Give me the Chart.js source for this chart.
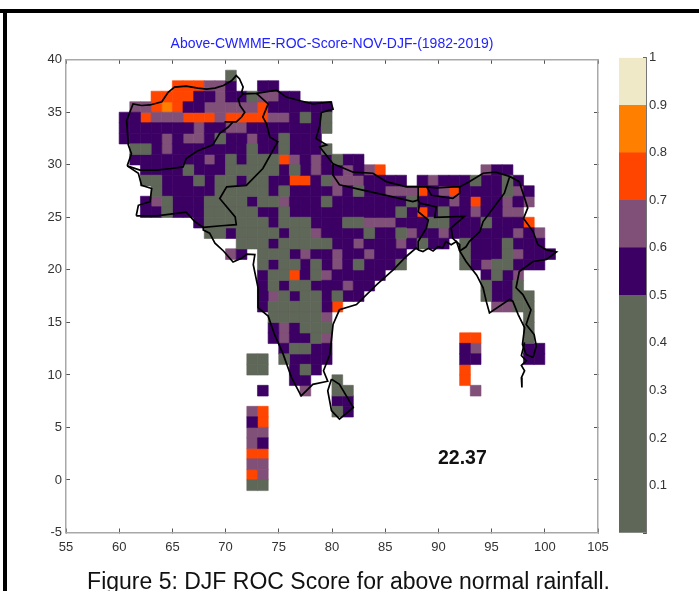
<!DOCTYPE html>
<html>
<head>
<meta charset="utf-8">
<title>DJF ROC Score</title>
<script src="https://cdn.jsdelivr.net/npm/chart.js@4"></script>
<style>
  html, body { margin: 0; padding: 0; background: #fff; }
  #page { position: relative; width: 699px; height: 591px; overflow: hidden; }
  #map, #bar { position: absolute; top: 0; filter: blur(0.45px); }
  #map { left: 0; }
  #bar { left: 600px; }
  #frameTop { position: absolute; left: 0; top: 9px; width: 699px; height: 4px; background: #000; }
  #frameLeft { position: absolute; left: 3px; top: 9px; width: 4px; height: 582px; background: #000; }
  #caption { position: absolute; left: 0; width: 697px; top: 568px; text-align: center;
             font: 23px "Liberation Sans", Arial, sans-serif; color: #111; white-space: nowrap; filter: blur(0.3px); }
</style>
</head>
<body>
<div id="page">
  <canvas id="map" width="699" height="591"></canvas>
  <canvas id="bar" width="99" height="591"></canvas>
  <div id="frameTop"></div>
  <div id="frameLeft"></div>
  <div id="caption">Figure 5: DJF ROC Score for above normal rainfall.</div>
</div>
<script>
const titleText = 'Above-CWMME-ROC-Score-NOV-DJF-(1982-2019)';
const scoreText = '22.37';

// score bins of the 1 degree cells
const binCodes = ['g', 'p', 'm', 'r', 'o'];
const binScores = [0.45, 0.55, 0.65, 0.75, 0.85];
const binColors = ['#5f6759', '#3c0064', '#815079', '#ff4500', '#ff8000'];

// one entry per row of cells: south edge latitude, west edge of first cell, bin code per degree
const rowLats = [38, 37, 36, 35, 34, 33, 32, 31, 30, 29, 28, 27, 26, 25, 24, 23, 22, 21, 20, 19, 18, 17, 16, 15, 14, 13, 12, 11, 10, 9, 8, 7, 6, 5, 4, 3, 2, 1, 0, -1];
const rowStarts = [70, 65, 63, 61, 60, 60, 60, 61, 61, 62, 62, 63, 62, 62, 67, 68, 71, 70, 73, 73, 73, 73, 73, 74, 74, 74, 75, 72, 72, 76, 73, 80, 72, 72, 72, 72, 72, 72, 72, 72];
const rowCells = [
  'g',
  'rrrmmp..pp',
  'rrrrppmppgmmpp',
  'mmrorppmmmmmrpppppp',
  'pprmmmrrrmrrrrmmpgpg',
  'pppppppmppmmpppppppg',
  'ppppmpmmpgppmppgppp',
  'ggpmpppppppgppgpppg',
  'pppppppmpgpgggrmpmpgpp',
  'ppppgpppgggggpgpmppmpmr.........mpp',
  'ggpppgpggpggpprrpgmmmpppp.pmpppgppgp',
  'gpppppgggggpgppppmpgppmmmrpmrppppgmp',
  'pmgpppggggpggmpppgpppppppgpppmprppmpm',
  'ppgpppgggggppgppppppppppgprpgppmppmm',
  'pggggggpgggpppggmmmpppggpppgpppr',
  'ggpggggpggmppppgppgmppmppppppmpm',
  'gggpgggggppmpppmpgpp.gpppgppp',
  'mp.gggpmppmppmppp.....gpppgmppp',
  'gpggpgpmpgpppg.....gpmggppp',
  'pggrpgmppppp.........pgpm',
  'pgpggpppmpp..........gppg',
  'pmgpggpgpp...........gppgg',
  'pgggggpr..............mmgg',
  'gggggm..................g',
  'pmpggg..................g',
  'pmppgm............rr....g',
  'pggpp............pm....pp',
  'gg.gpppp............pp....pp',
  'gg..pgp.............r',
  'pp..g...........r',
  'p...m..gg...........m',
  'pp',
  'mr......gp',
  'pr',
  'mm',
  'mp',
  'rr',
  'mm',
  'rm',
  'gg'
];

// boundaries as lon, lat pairs
const afghanNorth = [[61.0,35.0],[61.3,35.8],[62.1,35.65],[62.9,35.7],[64.0,36.0],[64.6,36.9],[65.2,37.4],[66.3,37.5],[67.4,37.3],[68.2,37.2],[69.0,37.3],[69.8,37.55],[70.55,38.0],[71.0,38.5],[71.3,38.2],[71.65,37.4],[71.5,36.9],[71.65,36.75],[72.9,36.8],[74.8,37.1],[75.7,36.45],[77.0,36.1],[78.2,35.8],[79.9,36.0],[80.1,35.3],[79.0,35.0],[78.85,33.75],[78.5,32.5],[79.5,31.9],[78.85,31.7],[80.1,30.1],[82.0,29.3],[83.85,29.2],[85.1,28.4],[87.0,27.9],[88.1,27.9],[88.9,27.9],[89.8,27.8],[91.4,27.9],[92.0,27.9],[92.9,28.4],[94.2,29.2],[95.4,29.3],[96.7,28.9],[97.6,28.4],[98.4,25.9],[98.0,24.9],[98.9,23.65],[99.35,22.4],[100.15,21.9],[101.1,21.7],[100.15,21.0],[98.9,20.8],[97.6,19.85],[97.3,18.3],[97.94,17.65],[98.7,16.2],[98.25,14.8],[99.0,13.85],[99.2,12.75],[98.9,11.65]];
const afghanWest = [[61.0,35.0],[60.7,34.2],[60.85,31.9],[61.15,31.05],[60.75,29.9]];
const afghanSouth = [[60.75,29.9],[61.95,29.5],[63.5,29.5],[64.9,29.65],[66.0,29.8],[66.3,30.6],[67.3,31.3],[68.8,31.9],[69.45,33.0],[70.25,33.6],[70.7,34.1],[69.9,34.1],[71.0,34.1],[71.5,34.55],[71.8,35.0],[71.35,35.65],[71.2,36.3],[71.65,36.75]];
const iranBorder = [[60.75,29.9],[61.8,29.2],[62.1,28.05],[63.05,27.75],[62.9,26.5],[61.8,26.15],[61.6,25.15]];
const westCoast = [[61.6,25.15],[63.5,25.15],[66.3,25.5],[67.1,24.6],[67.9,24.05],[67.9,23.8],[68.5,23.5],[69.0,22.55],[69.8,21.8],[70.7,20.75],[71.5,21.1],[72.0,21.5],[72.75,21.45],[72.6,20.5],[73.05,18.3],[73.05,16.4],[74.0,15.6],[74.6,13.85],[75.4,12.0],[76.2,9.75],[77.1,8.0],[78.2,9.1],[79.6,9.4],[79.2,10.4],[79.8,11.95],[80.1,14.8],[80.7,16.2],[82.3,16.7],[84.2,18.6],[85.75,20.0],[87.0,21.3],[87.9,22.07],[88.1,21.9]];
const deltaCoast = [[88.1,21.9],[88.55,21.75],[89.05,22.05],[89.5,21.8],[89.95,22.2],[90.4,22.1],[90.7,22.7],[91.2,22.4],[91.7,22.7],[92.0,21.8],[92.6,20.8],[93.6,19.5],[94.2,18.3],[94.5,17.0],[94.8,15.9],[96.7,17.2],[97.0,17.0],[97.5,15.75],[98.1,14.5],[97.9,12.9],[98.25,11.95],[98.9,11.65]];
const tailIslands = [[98.1,13.1],[97.8,11.85],[98.25,11.35],[97.8,10.9],[98.1,10.4],[97.8,9.75],[97.85,8.8]];
const pakIndia = [[67.9,24.05],[69.6,24.2],[71.0,24.3],[70.9,25.05],[69.45,26.8],[70.1,27.9],[71.95,28.05],[73.5,29.65],[74.9,32.2],[74.15,32.65],[73.85,33.9],[73.5,34.55],[74.0,35.8],[72.9,36.8]];
const nepalSouth = [[80.1,30.1],[80.1,29.0],[80.7,28.1],[82.9,27.6],[85.1,27.1],[87.6,26.5],[88.1,26.65],[88.1,27.9]];
const bhutanSouth = [[88.9,27.9],[89.35,27.1],[91.35,26.8],[92.0,27.3],[92.0,27.9]];
const bangladeshWest = [[88.1,26.65],[88.25,26.35],[88.1,25.55],[89.05,24.75],[88.85,23.95],[88.1,22.7],[88.1,21.9]];
const bangladeshEast = [[88.25,26.35],[89.8,26.0],[89.65,25.0],[92.45,25.1],[91.2,24.0],[91.35,23.0],[92.0,22.4],[92.0,21.8]];
const myanmarWest = [[96.7,28.9],[96.2,27.3],[94.2,24.6],[93.9,23.65],[92.9,22.7],[92.6,22.2],[92.0,21.8]];
const sriLanka = [[79.95,9.6],[80.7,9.1],[82.0,6.9],[80.7,5.8],[79.95,6.6],[79.6,8.5],[79.95,9.6]];
const boundaries = [afghanNorth, afghanWest, afghanSouth, iranBorder, westCoast, deltaCoast, tailIslands, pakIndia, nepalSouth, bhutanSouth, bangladeshWest, bangladeshEast, myanmarWest, sriLanka];

// colour bar segments, bottom to top
const barSteps = [0.5, 0.1, 0.1, 0.1, 0.1, 0.1];
const barColors = ['#5f6759', '#3c0064', '#815079', '#ff4500', '#ff8000', '#efe9c8'];

const axisGrey = '#a8a8a8';
const labelColor = '#333';
const labelFont = { family: '"Liberation Sans", Arial, sans-serif', size: 13 };

function cellsForBin(code) {
  const cells = [];
  rowCells.forEach((row, i) => {
    [...row].forEach((c, k) => {
      if (c === code) cells.push({ x: rowStarts[i] + k + 0.5, y: rowLats[i] + 0.5, score: binScores[binCodes.indexOf(code)] });
    });
  });
  return cells;
}

const cellDatasets = binCodes.map((code, i) => ({
  label: 'score ' + binScores[i],
  data: cellsForBin(code),
  pointStyle: 'rect',
  pointRadius: 7.6,
  pointBackgroundColor: binColors[i],
  pointBorderColor: binColors[i],
  pointBorderWidth: 0.6,
  showLine: false,
  order: 2
}));

const lineDatasets = boundaries.map(line => ({
  data: line.map(p => ({ x: p[0], y: p[1] })),
  showLine: true,
  borderColor: '#000',
  borderWidth: 1.7,
  pointRadius: 0,
  tension: 0,
  order: 1
}));

const scoreLabel = {
  id: 'scoreLabel',
  afterDatasetsDraw(chart) {
    const { ctx, scales } = chart;
    ctx.save();
    ctx.font = 'bold 19.5px "Liberation Sans", Arial, sans-serif';
    ctx.fillStyle = '#111';
    ctx.textAlign = 'center';
    ctx.textBaseline = 'middle';
    ctx.fillText(scoreText, scales.x.getPixelForValue(92.25), scales.y.getPixelForValue(2.05));
    ctx.restore();
  }
};

function sideAxis(pos, min, max, step, size, labelled, pad) {
  return {
    type: 'linear',
    position: pos,
    min: min,
    max: max,
    afterFit(scale) {
      if (pos === 'left' || pos === 'right') scale.width = size; else scale.height = size;
    },
    border: { color: axisGrey, width: 1.5 },
    grid: { drawOnChartArea: false, color: '#555', tickLength: -4, tickWidth: 1 },
    ticks: { display: labelled, stepSize: step, color: labelColor, font: labelFont, padding: pad, maxRotation: 0, autoSkip: false }
  };
}

new Chart(document.getElementById('map'), {
  type: 'scatter',
  data: { datasets: cellDatasets.concat(lineDatasets) },
  options: {
    responsive: false,
    animation: false,
    devicePixelRatio: 1,
    layout: { padding: { right: 35 } },
    plugins: {
      legend: { display: false },
      tooltip: { enabled: false },
      title: {
        display: true,
        text: titleText,
        color: '#2222ff',
        font: { family: '"Liberation Sans", Arial, sans-serif', size: 14, weight: 'normal' },
        lineHeight: 1,
        padding: { top: 36, bottom: 7 }
      }
    },
    scales: {
      x: sideAxis('bottom', 55, 105, 5, 58.5, true, 11),
      y: sideAxis('left', -5, 40, 5, 66, true, 8),
      x2: sideAxis('top', 55, 105, 5, 0, false, 0),
      y2: sideAxis('right', -5, 40, 5, 66, false, 0)
    }
  },
  plugins: [scoreLabel]
});

new Chart(document.getElementById('bar'), {
  type: 'bar',
  data: {
    labels: ['score'],
    datasets: barSteps.map((v, i) => ({
      data: [v],
      backgroundColor: barColors[i],
      barPercentage: 1,
      categoryPercentage: 1,
      stack: 'bar'
    }))
  },
  options: {
    responsive: false,
    animation: false,
    devicePixelRatio: 1,
    layout: { padding: { left: 19, top: 57.8, bottom: 58 } },
    plugins: { legend: { display: false }, tooltip: { enabled: false }, title: { display: false } },
    scales: {
      x: { display: false, stacked: true },
      y: {
        type: 'linear',
        position: 'right',
        stacked: true,
        min: 0,
        max: 1,
        afterFit(scale) { scale.width = 53; },
        border: { color: '#777', width: 1 },
        grid: { drawOnChartArea: false, color: '#555', tickLength: -3 },
        ticks: {
          stepSize: 0.1,
          color: labelColor,
          font: labelFont,
          padding: 6,
          callback: v => (v < 0.05 ? '' : String(Math.round(v * 10) / 10))
        }
      }
    }
  }
});
</script>
</body>
</html>
